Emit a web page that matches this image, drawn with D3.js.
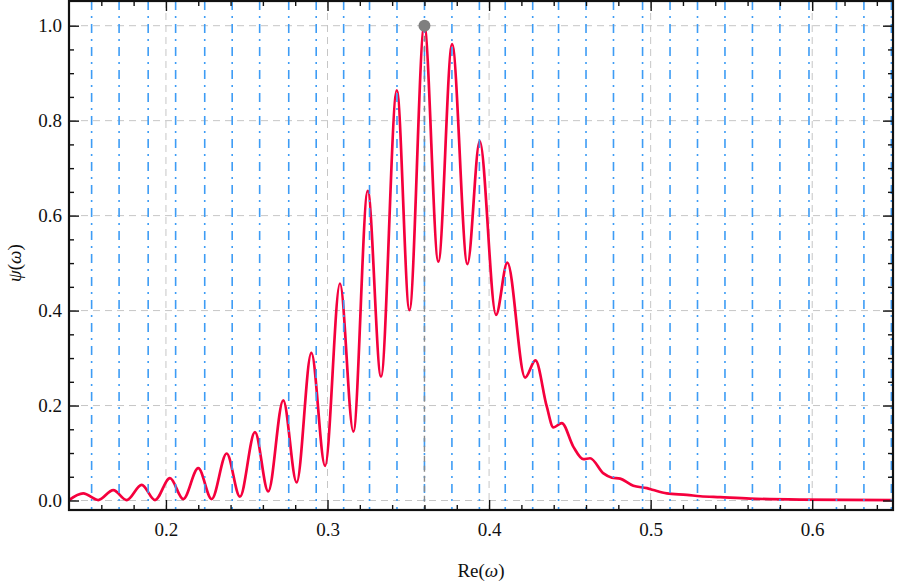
<!DOCTYPE html>
<html>
<head>
<meta charset="utf-8">
<script src="https://cdn.jsdelivr.net/npm/d3@7"></script>
<style>
  body { margin: 0; background: #fff; }
</style>
</head>
<body>
<div id="chart"></div>
<script>
// curve samples (peaks, troughs, shoulders)
const reOmega = [0.140, 0.1488, 0.1581, 0.1674, 0.1757, 0.1850, 0.1932, 0.2025, 0.2107, 0.2200,
  0.2283, 0.2376, 0.2458, 0.2551, 0.2633, 0.2726, 0.2809, 0.2900, 0.2985, 0.3077,
  0.3160, 0.3249, 0.3331, 0.3429, 0.3507, 0.3599, 0.3686, 0.3771, 0.3866, 0.3942,
  0.4043, 0.4113, 0.4223, 0.4287, 0.4357, 0.4398, 0.4450, 0.4522, 0.4584, 0.4625,
  0.4708, 0.4760, 0.4811, 0.4893, 0.4977, 0.5017, 0.5100, 0.5224, 0.5307, 0.5430,
  0.5616, 0.5926, 0.650];
const psi = [0.001, 0.015, 0.001, 0.022, 0.001, 0.033, 0.001, 0.047, 0.003, 0.068,
  0.003, 0.099, 0.008, 0.144, 0.019, 0.211, 0.038, 0.311, 0.073, 0.457,
  0.145, 0.652, 0.261, 0.864, 0.401, 1.000, 0.503, 0.961, 0.498, 0.757,
  0.391, 0.501, 0.259, 0.295, 0.198, 0.154, 0.163, 0.113, 0.087, 0.089,
  0.057, 0.048, 0.046, 0.031, 0.026, 0.022, 0.015, 0.012, 0.009, 0.007,
  0.004, 0.002, 0.001];

// vertical marker lines (blue, dash-dot)
const modeRe = [0.154, 0.171, 0.189, 0.206, 0.224, 0.241, 0.258, 0.276, 0.293, 0.310,
  0.326, 0.343, 0.360, 0.377, 0.394, 0.410, 0.427, 0.443, 0.460, 0.477,
  0.495, 0.512, 0.529, 0.546, 0.563, 0.580, 0.598, 0.615, 0.632, 0.649];

const peakRe = 0.36;
const peakPsi = 1.0;

const xMajor = [0.2, 0.3, 0.4, 0.5, 0.6];
const xMinor = [0.16, 0.18, 0.22, 0.24, 0.26, 0.28, 0.32, 0.34, 0.36, 0.38,
  0.42, 0.44, 0.46, 0.48, 0.52, 0.54, 0.56, 0.58, 0.62, 0.64];
const yMajor = [0.0, 0.2, 0.4, 0.6, 0.8, 1.0];
const yMinor = [0.05, 0.1, 0.15, 0.25, 0.3, 0.35, 0.45, 0.5, 0.55, 0.65, 0.7, 0.75, 0.85, 0.9, 0.95];

const FONT = '"Liberation Serif", "Times New Roman", serif';

const W = 897, H = 581;
const margin = { top: 1, right: 4, bottom: 71, left: 69 };
const width = W - margin.left - margin.right,
      height = H - margin.top - margin.bottom;

const svg = d3.select("#chart").append("svg")
    .attr("width", W)
    .attr("height", H);

const g = svg.append("g")
    .attr("transform", `translate(${margin.left},${margin.top})`);

const x = d3.scaleLinear().domain([0.14, 0.65]).range([0, width]);
const y = d3.scaleLinear().domain([-0.02, 1.052]).range([height, 0]);

// grid
g.append("g").selectAll("line").data(xMajor).join("line")
    .attr("x1", d => x(d)).attr("x2", d => x(d))
    .attr("y1", 0).attr("y2", height)
    .attr("stroke", "#c6c6c6").attr("stroke-width", 1)
    .attr("stroke-dasharray", "7,5");
g.append("g").selectAll("line").data(yMajor).join("line")
    .attr("x1", 0).attr("x2", width)
    .attr("y1", d => y(d)).attr("y2", d => y(d))
    .attr("stroke", "#c6c6c6").attr("stroke-width", 1)
    .attr("stroke-dasharray", "7,5");

// curve
const line = d3.line()
    .x((d, i) => x(reOmega[i]))
    .y(d => y(d))
    .curve(d3.curveMonotoneX);

g.append("path")
    .datum(psi)
    .attr("fill", "none")
    .attr("stroke", "#f5003d")
    .attr("stroke-width", 2.7)
    .attr("stroke-linejoin", "round")
    .attr("d", line);

// blue dash-dot markers on top of curve
g.append("g").selectAll("line").data(modeRe).join("line")
    .attr("x1", d => x(d)).attr("x2", d => x(d))
    .attr("y1", 0).attr("y2", height)
    .attr("stroke", "#3d9cf5").attr("stroke-width", 1.6)
    .attr("stroke-dasharray", "9,6,2,6");

// peak marker
g.append("line")
    .attr("x1", x(peakRe)).attr("x2", x(peakRe))
    .attr("y1", y(peakPsi)).attr("y2", height)
    .attr("stroke", "#8a8a8a").attr("stroke-width", 1.4)
    .attr("stroke-dasharray", "6,4");
g.append("circle")
    .attr("cx", x(peakRe)).attr("cy", y(peakPsi))
    .attr("r", 6)
    .attr("fill", "#7f7f7f");

// axes, ticks pointing inward
function styleAxis(sel) {
    sel.attr("font-family", FONT);
    sel.select(".domain").remove();
    sel.selectAll(".tick line").attr("stroke", "#111").attr("stroke-width", 1.4);
    sel.selectAll("text")
        .attr("font-family", FONT)
        .attr("font-size", 19)
        .attr("fill", "#111");
}

g.append("g").attr("transform", `translate(0,${height})`)
    .call(d3.axisBottom(x).tickValues(xMajor).tickSize(-10).tickPadding(13).tickFormat(d3.format(".1f")))
    .call(styleAxis);
g.append("g").attr("transform", `translate(0,${height})`)
    .call(d3.axisBottom(x).tickValues(xMinor).tickSize(-5).tickFormat(""))
    .call(styleAxis);
g.append("g")
    .call(d3.axisTop(x).tickValues(xMajor).tickSize(-10).tickFormat(""))
    .call(styleAxis);
g.append("g")
    .call(d3.axisTop(x).tickValues(xMinor).tickSize(-5).tickFormat(""))
    .call(styleAxis);

g.append("g")
    .call(d3.axisLeft(y).tickValues(yMajor).tickSize(-10).tickPadding(7).tickFormat(d3.format(".1f")))
    .call(styleAxis);
g.append("g")
    .call(d3.axisLeft(y).tickValues(yMinor).tickSize(-5).tickFormat(""))
    .call(styleAxis);
g.append("g").attr("transform", `translate(${width},0)`)
    .call(d3.axisRight(y).tickValues(yMajor).tickSize(-10).tickFormat(""))
    .call(styleAxis);
g.append("g").attr("transform", `translate(${width},0)`)
    .call(d3.axisRight(y).tickValues(yMinor).tickSize(-5).tickFormat(""))
    .call(styleAxis);

// frame
g.append("rect")
    .attr("width", width).attr("height", height)
    .attr("fill", "none")
    .attr("stroke", "#111").attr("stroke-width", 2.2);

// axis labels
const xLab = svg.append("text")
    .attr("x", margin.left + width / 2)
    .attr("y", 577)
    .attr("text-anchor", "middle")
    .attr("font-family", FONT)
    .attr("font-size", 19)
    .attr("fill", "#111");
xLab.append("tspan").text("Re(");
xLab.append("tspan").attr("font-style", "italic").text("ω");
xLab.append("tspan").text(")");

const yLab = svg.append("text")
    .attr("transform", `translate(21,${margin.top + y(0.5)}) rotate(-90)`)
    .attr("text-anchor", "middle")
    .attr("font-family", FONT)
    .attr("font-size", 19)
    .attr("fill", "#111");
yLab.append("tspan").attr("font-style", "italic").text("ψ");
yLab.append("tspan").text("(");
yLab.append("tspan").attr("font-style", "italic").text("ω");
yLab.append("tspan").text(")");
</script>
</body>
</html>
